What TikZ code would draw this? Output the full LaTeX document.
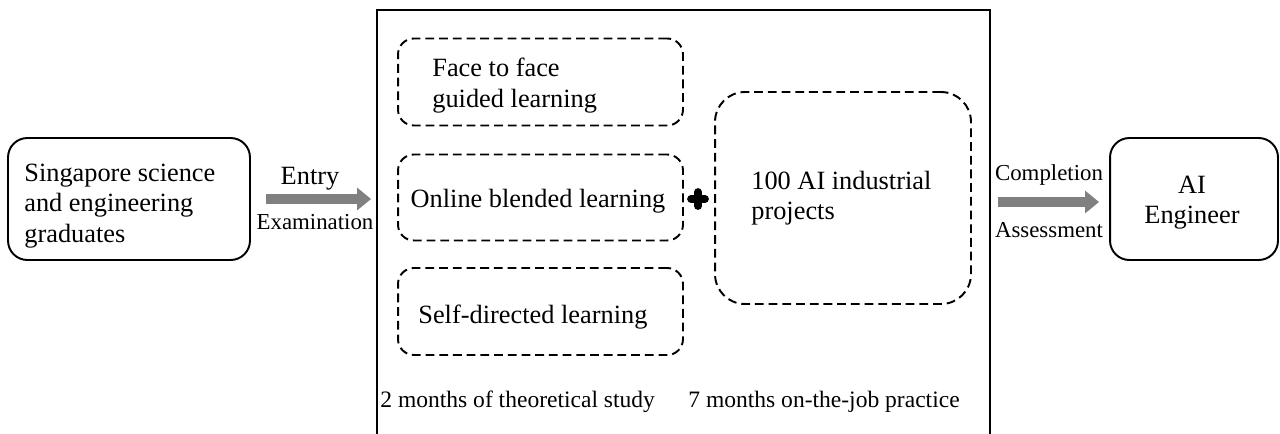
\documentclass[tikz,border=0pt]{standalone}
\usepackage{fontspec}
\setmainfont{Liberation Serif}
\usetikzlibrary{arrows.meta,positioning}
\definecolor{arrowgray}{RGB}{128,128,128}

\begin{document}
\begin{tikzpicture}[x=0.02cm,y=-0.02cm,inner sep=0pt]
\tikzstyle{solidbox}=[rectangle, rounded corners=11pt, line width=1.1pt, draw=black]
\tikzstyle{dashbox}=[rectangle, rounded corners=9pt, line width=1.1pt, draw=black, dash pattern=on 5pt off 2.8pt]
\tikzstyle{bigtext}=[font=\fontsize{15}{17.3}\selectfont]
\tikzstyle{smalltext}=[font=\fontsize{13}{15}\selectfont]
\tikzstyle{foottext}=[font=\fontsize{13.4}{15}\selectfont]
\tikzstyle{fatarrow}=[-{Triangle[length=8pt,width=12.5pt]}, line width=6.2pt, draw=arrowgray]
\useasboundingbox (0,0) rectangle (1280,433);
% outer frame, runs past the bottom edge
\node[rectangle, draw=black, line width=1.1pt, minimum width=12.26cm, minimum height=9cm] (frame) at (683.5,235) {};
\node[solidbox, minimum width=4.84cm, minimum height=2.44cm] (sg) at (129,199) {};
\node[bigtext, anchor=west, align=left] (sgtext) at (24,206) {Singapore science\\and engineering\\graduates};
\node[solidbox, minimum width=3.36cm, minimum height=2.44cm] (ai) at (1194,199) {};
\node[bigtext, align=center] (aitext) at (1192,202.5) {AI\\Engineer};
% theoretical study
\node[dashbox, minimum width=5.7cm, minimum height=1.74cm] (ftf) at (540.5,82) {};
\node[bigtext, anchor=west, align=left] (ftftext) at (432,85.5) {Face to face\\guided learning};
\node[dashbox, minimum width=5.7cm, minimum height=1.72cm] (obl) at (540.5,197.5) {};
\node[bigtext] (obltext) at (538,201.5) {Online blended learning};
\node[dashbox, minimum width=5.7cm, minimum height=1.74cm] (sdl) at (540.5,311.5) {};
\node[bigtext, anchor=west] (sdltext) at (418,317.5) {Self-directed learning};
% practice
\node[dashbox, rounded corners=17pt, minimum width=5.12cm, minimum height=4.24cm] (proj) at (843,198) {};
\node[bigtext, anchor=west, align=left] (projtext) at (751,198) {100 AI industrial\\projects};
\draw[line width=4.4pt, line cap=round] (691,199) -- (705,199) (698,192) -- (698,206);
\node[foottext, anchor=west] (theo) at (380,402) {2 months of theoretical study};
\node[foottext, anchor=west] (prac) at (688,402) {7 months on-the-job practice};
% arrows
\draw[fatarrow, shorten <=15*0.02cm, shorten >=5*0.02cm] (sg.east) -- (sg.east -| frame.west);
\node[bigtext] (entry) at (310,179) {Entry};
\node[smalltext] (exam) at (315,222) {Examination};
\draw[fatarrow, shorten <=7*0.02cm, shorten >=10*0.02cm] ([yshift=-3*0.02cm]ai.west -| frame.east) -- ([yshift=-3*0.02cm]ai.west);
\node[smalltext] (compl) at (1049,175) {Completion};
\node[smalltext] (assess) at (1049,230) {Assessment};
\end{tikzpicture}
\end{document}
